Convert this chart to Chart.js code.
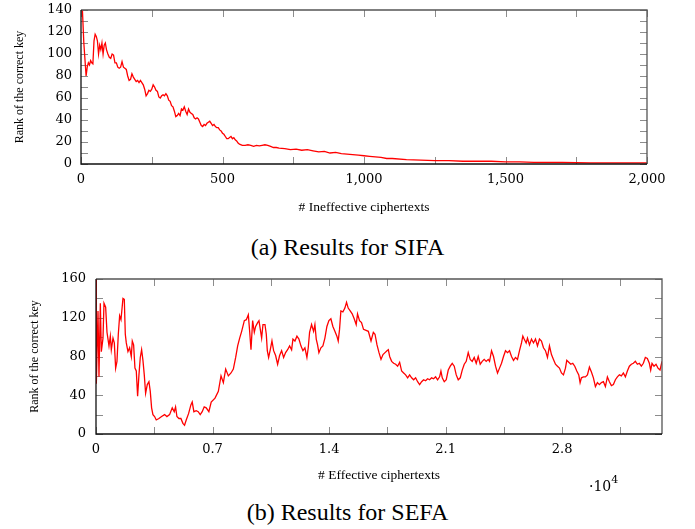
<!DOCTYPE html>
<html><head><meta charset="utf-8">
<script src="https://cdn.jsdelivr.net/npm/chart.js@4"></script>
<style>
html,body{margin:0;padding:0;background:#fff}
body{width:695px;height:529px;position:relative;overflow:hidden;font-family:"Liberation Serif",serif;color:#000}
.box{position:absolute;left:0;width:695px;height:230px}
.cap{position:absolute;left:0;width:695px;text-align:center;font-size:24px;line-height:28px}
#exp{position:absolute;left:589px;top:474px;font-size:14px;font-family:"DejaVu Serif",serif;line-height:16px}
#exp sup{font-size:11px;position:relative;top:-2px}
</style></head><body>
<div class="box" style="top:0"><canvas id="c1"></canvas></div>
<div class="box" style="top:265px"><canvas id="c2"></canvas></div>
<div class="cap" style="top:233px">(a) Results for SIFA</div>
<div class="cap" style="top:498px">(b) Results for SEFA</div>
<div id="exp">·10<sup>4</sup></div>
<script>
// ---- data ----
const sifaData = [
[0,140],[5,140],[10,110],[18,80],[22,88],[26,92],[30,90],[34,94],[38,92],[42,91],
[46,112],[50,118],[54,116],[58,112],[62,100],[66,108],[70,104],[74,110],[78,100],[82,108],
[86,110],[90,104],[95,100],[100,97],[105,96],[110,100],[115,99],[120,92],[125,92],[130,88],
[135,87],[140,88],[145,93],[150,88],[155,87],[160,86],[165,80],[170,76],[175,77],[180,82],
[185,79],[190,77],[195,75],[200,76],[205,74],[210,76],[215,74],[220,72],[225,68],[230,62],
[235,64],[240,67],[245,66],[250,68],[255,72],[260,70],[265,67],[270,66],[275,61],[280,60],
[285,62],[290,63],[295,62],[300,64],[305,62],[310,58],[315,57],[320,53],[325,52],[330,48],
[335,43],[340,44],[345,46],[350,44],[355,50],[360,49],[365,52],[370,48],[375,45],[380,50],
[385,47],[390,46],[395,45],[400,42],[405,41],[410,42],[415,41],[420,38],[425,35],[430,34],
[435,36],[440,35],[445,37],[450,38],[455,39],[460,37],[465,35],[470,36],[475,34],[480,33],
[485,33],[490,31],[495,30],[500,28],[505,27],[510,25],[515,23],[520,23],[525,24],[530,25],
[535,23],[540,24],[545,22],[550,21],[555,19],[560,18],[570,17],[580,17],[590,17.5],[600,17],
[610,16],[620,17],[630,16.5],[640,17],[650,17.5],[660,17],[670,16],[680,15],[690,15],[700,14.5],
[720,14],[740,13],[760,13.5],[780,12.5],[800,13],[820,12],[840,11],[860,11.5],[880,10],[900,10.5],
[920,9.5],[940,9],[960,8.5],[980,8],[1000,7.5],[1020,7],[1040,6.5],[1060,6],[1080,5],[1100,5],
[1150,4],[1200,3.5],[1250,3],[1300,3],[1350,2.5],[1400,2.5],[1450,2.5],[1500,2],[1550,2],[1600,1.5],
[1650,1.5],[1700,1.5],[1800,1],[1900,1],[2000,1]
];
const sefaData = [
[0,160],[20,52],[120,127],[180,59],[260,135],[320,85],[420,99],[480,135],[580,131],[660,105],
[780,91],[860,101],[920,87],[1020,99],[1100,94],[1180,68],[1260,75],[1340,103],[1420,122],[1500,118],
[1620,140],[1700,139],[1760,103],[1820,94],[1920,85],[2020,89],[2120,80],[2180,96],[2260,92],[2340,68],
[2420,65],[2500,39],[2580,61],[2660,79],[2740,87],[2820,76],[2900,61],[2980,42],[3080,51],[3180,54],
[3260,44],[3340,27],[3420,20],[3520,18],[3620,14.5],[3780,16],[3940,18],[4120,20],[4260,18],[4420,20],
[4580,27],[4700,23],[4780,28],[4860,18],[4980,16],[5100,16],[5220,11],[5320,9],[5420,14.5],[5560,21],
[5700,30],[5780,33],[5880,23],[6020,24],[6140,23],[6260,20],[6380,23],[6500,28],[6620,27],[6780,23],
[6920,33],[7150,37],[7350,44],[7510,60],[7650,53],[7790,67],[7950,60],[8110,63],[8250,67],[8390,79],
[8510,91],[8630,99],[8750,106],[8910,117],[9030,118],[9150,123],[9230,106],[9310,87],[9410,117],[9510,105],
[9590,111],[9710,115],[9790,117],[9870,108],[9950,99],[10030,113],[10150,113],[10230,103],[10290,86],[10370,79],
[10470,87],[10570,96],[10670,86],[10790,81],[10910,72],[11030,81],[11150,86],[11270,79],[11390,84],[11510,87],
[11630,91],[11750,87],[11830,98],[11950,96],[12070,101],[12190,98],[12310,91],[12430,86],[12550,89],[12670,79],
[12750,89],[12830,105],[12950,113],[13070,106],[13150,113],[13230,98],[13310,92],[13390,84],[13510,89],[13630,91],
[13750,99],[13870,111],[13990,117],[14110,119],[14230,111],[14350,106],[14470,101],[14550,96],[14630,108],[14710,127],
[14830,126],[14950,130],[15050,136],[15150,130],[15270,127],[15390,124],[15510,119],[15630,113],[15710,124],[15830,117],
[15950,115],[16070,108],[16360,106],[16520,96],[16660,105],[16760,103],[16880,92],[17000,84],[17120,77],[17240,82],
[17360,84],[17480,86],[17560,87],[17640,80],[17760,75],[17880,73],[18000,72],[18120,70],[18240,74],[18360,65],
[18480,63],[18600,61],[18720,58],[18840,61],[18960,58],[19080,56],[19200,58],[19320,54],[19440,51],[19560,54],
[19680,56],[19800,55],[19920,57],[20040,56],[20160,58],[20280,57],[20400,59],[20520,56],[20640,59],[20720,65],
[20800,58],[20920,54],[21040,56],[21160,66],[21280,70],[21400,73],[21520,70],[21640,61],[21760,56],[21880,58],
[22000,66],[22120,72],[22240,75],[22360,84],[22480,77],[22600,75],[22720,79],[22840,73],[22960,80],[23080,72],
[23200,75],[23320,77],[23440,75],[23560,77],[23640,75],[23760,86],[23880,80],[24000,70],[24120,63],[24240,68],
[24360,73],[24480,80],[24600,86],[24720,84],[24840,86],[24960,80],[25080,76],[25200,79],[25320,77],[25440,86],
[25560,94],[25640,101],[25720,98],[25840,94],[25920,99],[26040,92],[26160,98],[26280,94],[26400,98],[26520,91],
[26640,98],[26760,96],[26880,89],[27000,86],[27120,79],[27240,91],[27360,82],[27480,77],[27600,72],[27720,70],
[27840,68],[27960,63],[28080,61],[28200,68],[28280,76],[28400,74],[28520,72],[28640,73],[28760,70],[28880,65],
[29000,61],[29080,53],[29160,58],[29280,59],[29400,59],[29520,61],[29640,69],[29760,64],[29880,58],[30000,49],
[30120,53],[30240,51],[30360,53],[30480,54],[30600,49],[30720,59],[30840,54],[30960,50],[31080,51],[31200,56],
[31320,59],[31440,61],[31560,60],[31680,63],[31800,59],[31920,65],[32040,70],[32160,72],[32280,73],[32400,75],
[32520,72],[32640,73],[32760,70],[32880,73],[33000,79],[33120,78],[33240,73],[33320,66],[33400,73],[33520,70],
[33640,72],[33760,68],[33880,66],[34000,75]
];
const sifaXTicks = [0,250,500,750,1000,1250,1500,1750,2000];
const sifaXLabels = ['0','','500','','1,000','','1,500','','2,000'];
const sifaYTicks = [0,10,20,30,40,50,60,70,80,90,100,110,120,130,140];
const sifaYLabels = ['0','','20','','40','','60','','80','','100','','120','','140'];
const sefaXTicks = [0,3500,7000,10500,14000,17500,21000,24500,28000,31500];
const sefaXLabels = ['0','','0.7','','1.4','','2.1','','2.8',''];
const sefaYTicks = [0,20,40,60,80,100,120,140,160];
const sefaYLabels = ['0','','40','','80','','120','','160'];

// ---- drawing ----
const tickFont = {family:'"DejaVu Serif", serif', size:13};
const yTitleFont = {family:'"Liberation Serif", serif', size:12};
const xTitleFont = {family:'"Liberation Serif", serif', size:13.5};

const framePlugin = {
  id:'frame',
  beforeDatasetsDraw(chart){
    const {ctx, chartArea:a, scales:{x,y}} = chart;
    ctx.save();
    ctx.strokeStyle='#8c8c8c'; ctx.lineWidth=1;
    ctx.beginPath();
    x.ticks.forEach(t=>{const p=Math.round(x.getPixelForValue(t.value))+0.5;
      ctx.moveTo(p,a.bottom); ctx.lineTo(p,a.bottom-7); ctx.moveTo(p,a.top); ctx.lineTo(p,a.top+7);});
    y.ticks.forEach(t=>{const p=Math.round(y.getPixelForValue(t.value))+0.5;
      ctx.moveTo(a.left,p); ctx.lineTo(a.left+7,p); ctx.moveTo(a.right,p); ctx.lineTo(a.right-7,p);});
    ctx.stroke();
    ctx.restore();
  },
  afterDatasetsDraw(chart){
    const {ctx, chartArea:a} = chart;
    ctx.save();
    ctx.strokeStyle='#555'; ctx.lineWidth=1.3;
    ctx.beginPath(); ctx.moveTo(a.left,a.top); ctx.lineTo(a.right,a.top); ctx.lineTo(a.right,a.bottom); ctx.stroke();
    ctx.strokeStyle='#111';
    ctx.beginPath(); ctx.moveTo(a.left,a.top); ctx.lineTo(a.left,a.bottom); ctx.lineTo(a.right,a.bottom); ctx.stroke();
    ctx.restore();
  }
};

function makeChart(id, data, cfg){
  return new Chart(document.getElementById(id), {
    type:'line',
    data:{datasets:[{data:data.map(p=>({x:p[0],y:p[1]})), borderColor:'#ff0000', borderWidth:1.3,
      pointRadius:0, tension:0, fill:false}]},
    plugins:[framePlugin],
    options:{
      responsive:true, maintainAspectRatio:false, animation:false, devicePixelRatio:1,
      layout:{padding:cfg.padding},
      plugins:{legend:{display:false}, tooltip:{enabled:false}},
      scales:{
        x:{type:'linear', min:cfg.xMin, max:cfg.xMax,
          afterFit:s=>{s.height=cfg.xAxisH; s.paddingLeft=0; s.paddingRight=0;},
          afterBuildTicks:s=>{s.ticks=cfg.xTicks.map(v=>({value:v}));},
          grid:{display:false, drawTicks:false}, border:{display:false},
          ticks:{autoSkip:false, maxRotation:0, padding:cfg.xTickPad, color:'#000', font:tickFont,
            callback:(v,i)=>cfg.xLabels[i]},
          title:{display:true, text:cfg.xTitle, color:'#000', font:xTitleFont, padding:{top:0,bottom:cfg.xTitlePad}}},
        y:{type:'linear', min:cfg.yMin, max:cfg.yMax,
          afterFit:s=>{s.width=cfg.yAxisW; s.paddingTop=0; s.paddingBottom=0;},
          afterBuildTicks:s=>{s.ticks=cfg.yTicks.map(v=>({value:v}));},
          grid:{display:false, drawTicks:false}, border:{display:false},
          ticks:{autoSkip:false, padding:cfg.yTickPad, color:'#000', font:tickFont,
            callback:(v,i)=>cfg.yLabels[i]},
          title:{display:true, text:'Rank of the correct key', color:'#000', font:yTitleFont, padding:{top:cfg.yTitlePad,bottom:0}}}
      }
    }
  });
}

makeChart('c1', sifaData, {
  padding:{top:10,right:48,left:0,bottom:0},
  xMin:0,xMax:2000,yMin:0,yMax:140,
  xTicks:sifaXTicks,xLabels:sifaXLabels,yTicks:sifaYTicks,yLabels:sifaYLabels,
  xAxisH:66,yAxisW:81,xTickPad:8,yTickPad:9,xTitlePad:14,yTitlePad:13,
  xTitle:'# Ineffective ciphertexts'
});
makeChart('c2', sefaData, {
  padding:{top:14,right:33,left:0,bottom:0},
  xMin:0,xMax:34000,yMin:0,yMax:160,
  xTicks:sefaXTicks,xLabels:sefaXLabels,yTicks:sefaYTicks,yLabels:sefaYLabels,
  xAxisH:61,yAxisW:96,xTickPad:8,yTickPad:10,xTitlePad:11,yTitlePad:28,
  xTitle:'# Effective ciphertexts'
});
</script>
</body></html>
